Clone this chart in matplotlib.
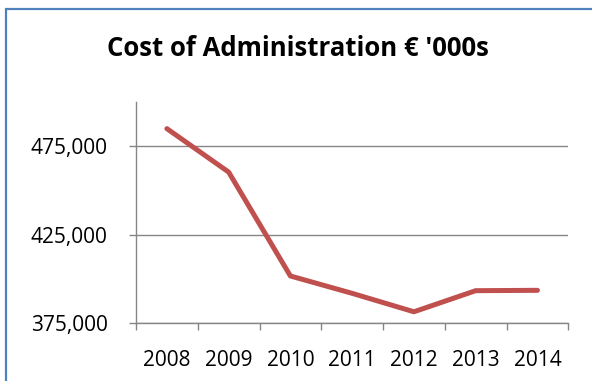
import matplotlib
matplotlib.use("Agg")
import matplotlib.pyplot as plt
from matplotlib.patches import Rectangle
from matplotlib.ticker import FuncFormatter

years = ["2008", "2009", "2010", "2011", "2012", "2013", "2014"]
cost = [484800, 460300, 401700, 391900, 381500, 393400, 393600]
y_ticks = [375000, 425000, 475000]

plt.rcParams["font.family"] = ["Open Sans", "DejaVu Sans"]

W, H = 592, 381
fig = plt.figure(figsize=(W / 100, H / 100), dpi=100)
ax = fig.add_axes([136 / W, 1 - 323.3 / H, (568.3 - 136) / W, (323.3 - 101.7) / H])

grey = "#868686"
x = list(range(len(years)))
ax.plot(x, cost, color="#c0504d", lw=3.6, solid_capstyle="round",
        solid_joinstyle="round", zorder=3)

ax.set_xlim(-0.5, len(years) - 0.5)
ax.set_ylim(375000, 500000)

ax.set_yticks(y_ticks)
ax.yaxis.set_major_formatter(FuncFormatter(lambda v, p: f"{int(v):,}"))
ax.grid(axis="y", color=grey, lw=1.0)
ax.set_axisbelow(True)

ax.set_xticks([i - 0.5 for i in range(len(years) + 1)])
ax.set_xticklabels([])
ax.set_xticks(x, minor=True)
ax.set_xticklabels(years, minor=True)

ax.tick_params(axis="x", which="major", length=5, width=1, color=grey, direction="out")
ax.tick_params(axis="x", which="minor", length=0, pad=19, labelsize=15)
ax.tick_params(axis="y", length=5, width=1, color=grey, direction="out",
               pad=15.5, labelsize=15)

for s in ("top", "right"):
    ax.spines[s].set_visible(False)
for s in ("left", "bottom"):
    ax.spines[s].set_color(grey)
    ax.spines[s].set_linewidth(1.0)

fig.text(298 / W, 1 - 55.7 / H, "Cost of Administration € '000s",
         ha="center", va="baseline", fontsize=18.5, fontweight="bold")

# outer chart border
fig.patches.append(Rectangle((6 / W, -0.1), 1.2, 1 - 9 / H + 0.1,
                             transform=fig.transFigure, fill=False,
                             edgecolor="#4f81bd", lw=1.6))

fig.savefig("out.png", dpi=100)
